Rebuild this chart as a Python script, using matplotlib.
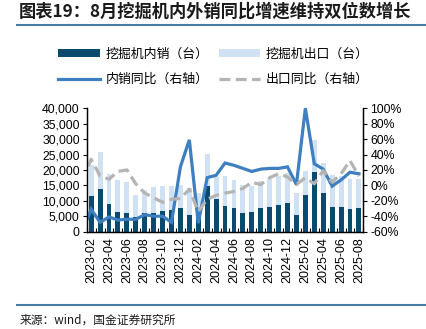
import numpy as np
import matplotlib
matplotlib.use('Agg')
import matplotlib.pyplot as plt
from matplotlib.ticker import FuncFormatter, FixedLocator

plt.rcParams['font.family'] = ['Liberation Sans', 'Noto Sans CJK SC', 'DejaVu Sans']

# 月份 (柱状图)
months = ['2023-02', '2023-03', '2023-04', '2023-05', '2023-06', '2023-07', '2023-08',
          '2023-09', '2023-10', '2023-11', '2023-12', '2024-01', '2024-02', '2024-03',
          '2024-04', '2024-05', '2024-06', '2024-07', '2024-08', '2024-09', '2024-10',
          '2024-11', '2024-12', '2025-01', '2025-02', '2025-03', '2025-04', '2025-05',
          '2025-06', '2025-07', '2025-08']

# 挖掘机内销 / 出口 (台)
domestic = [11500, 13800, 9100, 6400, 6100, 4800, 6000, 6100, 6700, 7000, 7600,
            5400, 5400, 14900, 10500, 8200, 7600, 6000, 6300, 7600, 7900,
            8600, 9200, 5400, 12000, 19400, 12500, 8000, 8100, 7300, 7600]
export = [10100, 12100, 9700, 10400, 10000, 7100, 7400, 8500, 8100, 7800, 7600,
          8800, 7000, 10200, 7300, 9800, 9000, 9000, 8500, 8700, 9300,
          9300, 9800, 7100, 7500, 10200, 9600, 10200, 9900, 9800, 9400]

# 同比 (%)，第一个值为2023-01，落在坐标轴外被裁掉
yoy_months = ['2023-01'] + months
domestic_yoy = [-60, -31, -48, -41, -45, -44, -44, -38, -40, -40, -48, 24,
                59, -49, 10, 13, 29, 26, 22, 18, 21, 22, 22, 24,
                1, 100, 28, 21, -1, 7, 17, 15]
export_yoy = [5, 34, 12, 8, 18, 20, 2, -10, -16, -22, -18, -17,
              -5, -34, -18, -13, -10, -8, -4, 4, 1, 10, 15, 11,
              1, 10, 2, 19, 4, 15, 32, 12]

x = np.arange(len(months))
x_yoy = np.arange(len(yoy_months)) - 1

fig = plt.figure(figsize=(4.27, 3.29), dpi=100)
ax = fig.add_axes([0.203, 0.296, 0.648, 0.375])
ax2 = ax.twinx()

c_dom = '#0b4a6f'
c_exp = '#cfe1f3'
c_line = '#3d7fc1'
c_dash = '#b4b4b4'

b1 = ax.bar(x, domestic, width=0.55, color=c_dom, zorder=2)
b2 = ax.bar(x, export, width=0.55, bottom=domestic, color=c_exp, zorder=2)

l1, = ax2.plot(x_yoy, domestic_yoy, color=c_line, lw=2.3, solid_joinstyle='miter')
l2, = ax2.plot(x_yoy, export_yoy, color=c_dash, lw=2.3, dashes=(3.4, 1.7))

ax.set_xlim(-0.5, len(months) - 0.5)
ax2.set_xlim(-0.5, len(months) - 0.5)
ax.set_ylim(0, 40000)
ax.set_yticks(np.arange(0, 40001, 5000))
ax.yaxis.set_major_formatter(FuncFormatter(lambda v, p: f'{int(v):,}'))
ax2.set_ylim(-60, 100)
ax2.set_yticks(np.arange(-60, 101, 20))
ax2.yaxis.set_major_formatter(FuncFormatter(lambda v, p: f'{int(v)}%'))

ax.set_xticks(x[::2])
ax.set_xticklabels(months[::2], rotation=90)
ax.xaxis.set_minor_locator(FixedLocator(np.arange(-0.5, len(months), 1)))
ax.tick_params(axis='x', which='major', length=0, pad=4, labelsize=9)
ax.tick_params(axis='x', which='minor', length=3, direction='in', width=0.8)
ax.tick_params(axis='y', length=3, width=0.8, labelsize=8.8, pad=2)
ax2.tick_params(axis='y', length=3, width=0.8, labelsize=8.8, pad=2)

for a in (ax, ax2):
    a.spines['top'].set_visible(False)
    for s in ('left', 'right', 'bottom'):
        a.spines[s].set_linewidth(0.9)

fig.legend([b1, l1, b2, l2],
           ['挖掘机内销（台）', '内销同比（右轴）', '挖掘机出口（台）', '出口同比（右轴）'],
           ncol=2, loc='center', bbox_to_anchor=(0.5, 0.797), frameon=False,
           prop={'family': 'Noto Sans CJK SC', 'size': 9.3},
           handlelength=3.2, handleheight=0.6, columnspacing=0.8,
           labelspacing=0.95, handletextpad=0.45)

fig.text(0.045, 0.965, '图表19：8月挖掘机内外销同比增速维持双位数增长',
         family=['Noto Sans CJK SC'], fontsize=12.4, fontweight='bold',
         style='italic', color='#1a1a1a', va='center')
fig.add_artist(plt.Line2D([0.04, 1.0], [0.925, 0.925], color='#4a7fa5', lw=1.5))
fig.add_artist(plt.Line2D([0.04, 1.0], [0.073, 0.073], color='#4a7fa5', lw=1.5))
fig.text(0.045, 0.027, '来源：wind，国金证券研究所', family=['Noto Sans CJK SC'],
         fontsize=8.5, color='#1a1a1a', va='center')

fig.savefig('out.png', dpi=100)
